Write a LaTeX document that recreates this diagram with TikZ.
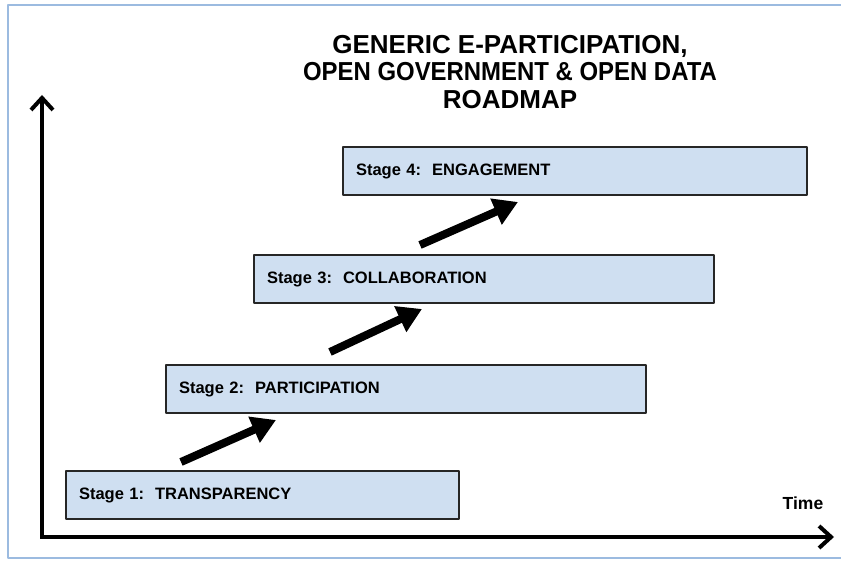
\documentclass[tikz,border=0pt]{standalone}
\usepackage{fontspec}
\setmainfont{Liberation Sans}
\usetikzlibrary{arrows.meta,positioning}
\definecolor{stagefill}{HTML}{CFDFF1}
\definecolor{frameblue}{HTML}{9CBBE0}
\tikzset{
  every picture/.style={line join=round, >=Stealth},
  stagebox/.style={draw=black!85, line width=2pt, fill=stagefill, anchor=north west,
    minimum height=48pt, inner xsep=13pt, align=left,
    font=\fontsize{16.5}{18}\selectfont\bfseries},
  stepup/.style={line width=8pt, -{Triangle[length=24pt,width=27pt]}},
  axis/.style={line width=4pt, line cap=rect, -{Straight Barb[length=12pt,width=22pt]}},
}

\begin{document}
\begin{tikzpicture}[x=1pt,y=-1pt]
\useasboundingbox (0,0) rectangle (841,561);
% frame
\draw[frameblue, line width=1.5pt] (841,5) -- (8,5) -- (8,558) -- (841,558);

% title
\node (title) at (510,72) [align=center, font=\fontsize{26}{27.5}\selectfont\bfseries]
  {GENERIC E-PARTICIPATION,\\\scalebox{0.92}[1]{OPEN GOVERNMENT \& OPEN DATA}\\ROADMAP};

% axes
\coordinate (origin) at (42,537);
\coordinate (ytop) at (42,95);
\coordinate (xend) at (834,537);
\draw[axis] (origin) -- (ytop);
\draw[axis] (origin) -- (xend);
\node (time) at (803,503) [font=\fontsize{17.5}{18}\selectfont\bfseries] {Time};

% stages
\node[stagebox, text width=367pt] (s1) at (65,470) {Stage 1:\ \ TRANSPARENCY};
\node[stagebox, text width=454pt] (s2) at (165,364) {Stage 2:\ \ PARTICIPATION};
\node[stagebox, text width=434pt] (s3) at (253,254) {Stage 3:\ \ COLLABORATION};
\node[stagebox, text width=438pt] (s4) at (342,146) {Stage 4:\ \ ENGAGEMENT};

% steps between stages
\coordinate (a1) at (181,462); \coordinate (b1) at (276,420);
\coordinate (a2) at (330,352); \coordinate (b2) at (422,309);
\coordinate (a3) at (420,245); \coordinate (b3) at (518,202);
\draw[stepup] (a1) -- (b1);
\draw[stepup] (a2) -- (b2);
\draw[stepup] (a3) -- (b3);
\end{tikzpicture}
\end{document}
